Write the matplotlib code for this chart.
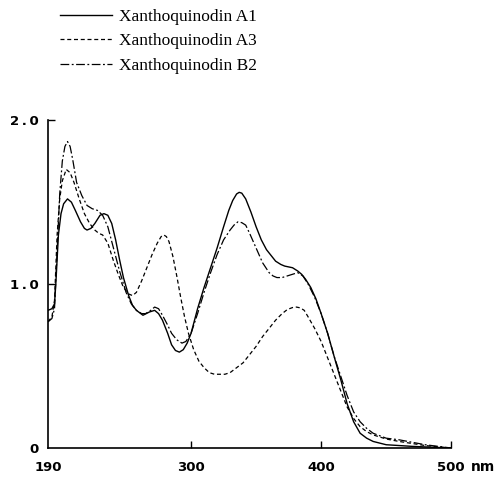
import numpy as np
import matplotlib.pyplot as plt

# UV spectra (wavelength in nm, absorbance)
wl_a1 = [190, 193, 195, 196, 198, 200, 202, 205, 208, 211, 215, 218, 220, 223, 226, 230, 233,
         236, 239, 242, 245, 248, 252, 255, 258, 263, 268, 272, 275, 278, 282, 285, 288, 291,
         294, 297, 300, 305, 310, 315, 320, 325, 329, 332, 335, 337, 339, 342, 346, 350, 354,
         358, 362, 365, 369, 372, 375, 378, 382, 385, 388, 392, 396, 400, 405, 411, 415, 420,
         425, 430, 435, 440, 450, 470, 500]
ab_a1 = [0.84, 0.85, 0.88, 1.0, 1.3, 1.43, 1.49, 1.52, 1.50, 1.45, 1.38, 1.34, 1.33, 1.34,
         1.37, 1.42, 1.43, 1.42, 1.37, 1.27, 1.15, 1.04, 0.93, 0.87, 0.84, 0.81, 0.83, 0.84,
         0.82, 0.78, 0.70, 0.63, 0.595, 0.585, 0.60, 0.64, 0.70, 0.85, 0.98, 1.1, 1.22, 1.35,
         1.45, 1.51, 1.55, 1.56, 1.555, 1.52, 1.44, 1.35, 1.27, 1.21, 1.17, 1.14, 1.12, 1.11,
         1.105, 1.10, 1.08, 1.06, 1.03, 0.98, 0.91, 0.82, 0.70, 0.53, 0.42, 0.27, 0.16, 0.09,
         0.06, 0.04, 0.02, 0.01, 0.0]

wl_a3 = [190, 193, 195, 197, 199, 201, 204, 207, 210, 214, 218, 222, 226, 229, 232, 236, 240,
         244, 248, 252, 255, 258, 262, 266, 270, 274, 277, 279, 281, 283, 286, 289, 292, 295,
         298, 302, 306, 310, 314, 318, 322, 326, 330, 335, 340, 345, 350, 355, 360, 365, 370,
         374, 378, 381, 384, 387, 390, 395, 400, 405, 410, 415, 420, 425, 430, 435, 440, 450,
         460, 480, 500]
ab_a3 = [0.77, 0.8, 0.9, 1.3, 1.52, 1.63, 1.70, 1.68, 1.62, 1.52, 1.43, 1.37, 1.33, 1.31,
         1.30, 1.25, 1.15, 1.06, 0.98, 0.94, 0.93, 0.95, 1.02, 1.10, 1.18, 1.25, 1.29, 1.30,
         1.29, 1.26, 1.17, 1.05, 0.92, 0.80, 0.70, 0.60, 0.53, 0.49, 0.46, 0.45, 0.45, 0.45,
         0.46, 0.49, 0.52, 0.57, 0.62, 0.68, 0.73, 0.78, 0.82, 0.845, 0.857, 0.86, 0.855,
         0.84, 0.80, 0.73, 0.65, 0.55, 0.45, 0.35, 0.25, 0.18, 0.13, 0.10, 0.08, 0.055, 0.04,
         0.015, 0.0]

wl_b2 = [190, 193, 195, 197, 199, 201, 203, 205, 207, 209, 212, 216, 220, 224, 228, 232, 236,
         240, 245, 250, 254, 258, 262, 265, 269, 272, 275, 278, 282, 285, 289, 293, 296, 300,
         305, 310, 315, 320, 325, 330, 333, 336, 339, 342, 345, 350, 355, 360, 363, 366, 370,
         374, 378, 382, 386, 390, 395, 400, 405, 410, 415, 420, 425, 430, 435, 440, 450, 460,
         480, 500]
ab_b2 = [0.77, 0.79, 0.85, 1.2, 1.55, 1.75, 1.84, 1.87, 1.84, 1.76, 1.62, 1.54, 1.48, 1.46,
         1.45, 1.42, 1.35, 1.23, 1.08, 0.95, 0.88, 0.84, 0.82, 0.82, 0.84, 0.86, 0.85, 0.81,
         0.75, 0.70, 0.66, 0.64, 0.65, 0.70, 0.82, 0.95, 1.07, 1.18, 1.27, 1.33, 1.36, 1.38,
         1.375, 1.36, 1.31, 1.22, 1.13, 1.07, 1.05, 1.04, 1.04, 1.05, 1.06, 1.07, 1.05, 1.0,
         0.92, 0.82, 0.70, 0.56, 0.44, 0.32, 0.22, 0.16, 0.12, 0.09, 0.06, 0.05, 0.02, 0.0]

names = ["Xanthoquinodin A1", "Xanthoquinodin A3", "Xanthoquinodin B2"]
xtick_vals = [190, 300, 400, 500]
xtick_labels = ["190", "300", "400", "500"]
ytick_vals = [0, 1.0, 2.0]
ytick_labels = ["0", "1\u2009.\u20090", "2\u2009.\u20090"]

fig = plt.figure(figsize=(4.99, 4.79), dpi=100)
ax = fig.add_axes([0.0962, 0.0647, 0.808, 0.6843])

l1, = ax.plot(wl_a1, ab_a1, color="black", lw=1.0, solid_joinstyle="round")
l2, = ax.plot(wl_a3, ab_a3, color="black", lw=0.9, dashes=(3.2, 2.2))
l3, = ax.plot(wl_b2, ab_b2, color="black", lw=0.9, dashes=(7, 2, 1.5, 2))

ax.set_xlim(190, 500)
ax.set_ylim(0, 2.0)
ax.spines["top"].set_visible(False)
ax.spines["right"].set_visible(False)
for s in ["left", "bottom"]:
    ax.spines[s].set_linewidth(1.2)

ax.set_xticks(xtick_vals)
ax.set_xticklabels(xtick_labels)
ax.set_yticks(ytick_vals)
ax.set_yticklabels(ytick_labels)
ax.tick_params(direction="in", length=5, width=1.0, labelsize=9.5, pad=7)
ax.tick_params(axis="x", pad=9)
for lab in ax.get_xticklabels() + ax.get_yticklabels():
    lab.set_fontweight("bold")
ax.xaxis.get_major_ticks()[0].tick1line.set_visible(False)
ax.yaxis.get_major_ticks()[0].tick1line.set_visible(False)
ax.annotate("nm", xy=(500, 0), xycoords="data", xytext=(14, -14),
            textcoords="offset points", ha="left", va="center", fontsize=10,
            fontweight="bold", annotation_clip=False)

fig.legend([l1, l2, l3], names, loc="upper left", bbox_to_anchor=(0.121, 0.982),
           frameon=False, prop={"family": "Liberation Serif", "size": 12.5},
           handlelength=3.0, handletextpad=0.4, labelspacing=0.48, borderpad=0,
           borderaxespad=0)

fig.savefig("out.png", dpi=100)
